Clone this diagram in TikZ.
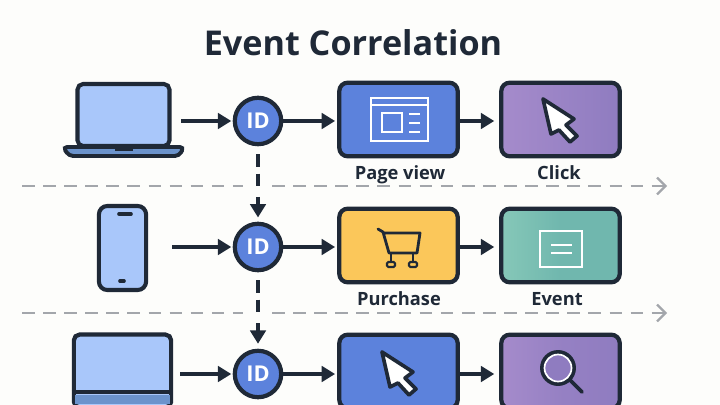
\documentclass[tikz,border=0pt]{standalone}
\usepackage{fontspec}
\setmainfont{Open Sans}
\usepackage{color}
\usetikzlibrary{arrows.meta}
\definecolor{ink}{HTML}{1F2937}
\definecolor{paper}{HTML}{FDFDFB}
\definecolor{sky}{HTML}{A9C7FA}
\definecolor{steel}{HTML}{6B93CC}
\definecolor{royal}{HTML}{5C82DC}
\definecolor{sun}{HTML}{FBC75A}
\definecolor{plum}{HTML}{A58BCB}
\definecolor{plumdark}{HTML}{8F7CC0}
\definecolor{teal}{HTML}{70B7AE}
\definecolor{tealpale}{HTML}{86C8B8}
\definecolor{rule}{HTML}{A3A6AB}
\tikzset{
    card/.style={draw=ink, line width=3pt, rounded corners=6pt, minimum width=2.96cm, minimum height=1.84cm, inner sep=0pt},
    device/.style={draw=ink, line width=2.9pt, fill=sky, rounded corners=4pt, inner sep=0pt},
    idnode/.style={circle, draw=ink, line width=3pt, fill=royal, text=white, minimum size=1.16cm, inner sep=0pt, font=\fontsize{15.5}{18}\selectfont\bfseries},
    flow/.style={draw=ink, line width=2.3pt, -{Triangle[length=9.5pt,width=11pt]}},
    link/.style={draw=ink, line width=2.3pt, dash pattern=on 9pt off 5pt},
    timeline/.style={draw=rule, line width=1.6pt, dash pattern=on 9pt off 6pt},
    caption/.style={anchor=base, text=ink, font=\fontsize{13}{15}\selectfont\bfseries},
    icon/.style={draw=white, line width=1.3pt},
    pointer/.pic={
        \draw[fill=white, draw=ink, line width=2.6pt, line join=round]
            (0,0) -- (31,20) -- (23,26) -- (34,37) -- (27,43) -- (16,31) -- (8,35) -- cycle;
    }
}
\begin{document}
\begin{tikzpicture}[x=0.025cm, y=-0.025cm]
    \useasboundingbox (0,0) rectangle (720,405);
    \clip (0,0) rectangle (720,405);
    \fill[paper] (0,0) rectangle (720,405);
    \node [text=ink, font=\fontsize{24.3}{28}\selectfont\bfseries] (title) at (353,43) {Event Correlation};

    % dashed rules between the rows
    \coordinate (ruleA) at (22,186);
    \coordinate (ruleAend) at (243,186);
    \coordinate (ruleB) at (272,186);
    \coordinate (ruleBend) at (667,186);
    \coordinate (ruleC) at (22,313);
    \coordinate (ruleCend) at (243,313);
    \coordinate (ruleD) at (272,313);
    \coordinate (ruleDend) at (667,313);
    \draw[timeline] (ruleA) -- (ruleAend);
    \draw[timeline, -{Straight Barb[length=6pt,width=12pt]}] (ruleB) -- (ruleBend);
    \draw[timeline] (ruleC) -- (ruleCend);
    \draw[timeline, -{Straight Barb[length=6pt,width=12pt]}] (ruleD) -- (ruleDend);

    % first row
    \node [device, minimum width=2.3cm, minimum height=1.55cm] (laptopA) at (123.5,115) {};
    \draw[draw=ink, line width=2.8pt, fill=steel, rounded corners=3pt] (63,147) -- (184,147) -- (179,156) -- (69,156) -- cycle;
    \fill[ink] (115,146) rectangle (133,151);
    \node [idnode] (idA) at (258,121) {ID};
    \node [card, fill=royal] (view) at (398.5,119.5) {};
    \node [card, left color=plum, right color=plumdark] (click) at (560.5,119.5) {};
    \node [caption] (viewtext) at (400,179.5) {Page view};
    \node [caption] (clicktext) at (559,179.5) {Click};
    \draw[icon] (371,98) rectangle (428,141);
    \draw[icon] (371,105) -- (428,105);
    \draw[icon] (382,113) rectangle (402,132);
    \draw[icon] (409,114) -- (420,114);
    \draw[icon] (409,123) -- (420,123);
    \draw[icon] (409,132) -- (420,132);
    \pic at (543,99) {pointer};

    % second row
    \node [device, minimum width=1.18cm, minimum height=2.1cm, rounded corners=6pt] (phone) at (122.5,248) {};
    \draw[ink, line width=2.6pt, line cap=round] (119,214) -- (131,214);
    \draw[ink, line width=2.6pt, line cap=round] (120,281) -- (124,281);
    \node [idnode] (idB) at (258,247) {ID};
    \node [card, fill=sun] (buy) at (398.5,245.5) {};
    \node [card, left color=tealpale, right color=teal, middle color=teal] (event) at (560.5,245.5) {};
    \node [caption] (buytext) at (399,305.5) {Purchase};
    \node [caption] (eventtext) at (557,305.5) {Event};
    \draw[ink, line width=2pt, line cap=round, line join=round] (378,229) -- (383,232) -- (389,253) -- (417,253) -- (420,233) -- (384,233);
    \draw[ink, line width=1.5pt] (391,253) -- (391,261);
    \draw[ink, line width=1.5pt] (413,253) -- (413,261);
    \draw[ink, line width=1.5pt, rounded corners=1pt] (387,262) rectangle (395,267);
    \draw[ink, line width=1.5pt, rounded corners=1pt] (409,262) rectangle (417,267);
    \draw[draw=white, line width=2pt] (540,231) rectangle (582,267);
    \draw[draw=white, line width=2pt] (551,245) -- (572,245);
    \draw[draw=white, line width=2pt] (551,253) -- (572,253);

    % third row
    \node [device, minimum width=2.43cm, minimum height=1.82cm, line width=3pt] (laptopB) at (122.5,371) {};
    \fill[steel] (75,395) rectangle (170,404);
    \draw[ink, line width=2.6pt] (laptopB.west |- 0,392) -- (laptopB.east |- 0,392);
    \node [idnode] (idC) at (258,374) {ID};
    \node [card, fill=royal] (move) at (398.5,371.5) {};
    \node [card, left color=plum, right color=plumdark, middle color=plumdark!70!plum] (find) at (560.5,371.5) {};
    \pic at (382,352) {pointer};
    \draw[ink, line width=2.6pt, line cap=round] (570,380) -- (582,392);
    \draw[ink, line width=2.8pt, fill=plumdark] (558,368) circle [radius=16];
    \draw[white, line width=1.2pt] (558,368) circle [radius=13.5];

    % arrows
    \draw[flow, shorten <=7pt, shorten >=1pt] (laptopA.east |- idA) -- (idA);
    \draw[flow, shorten >=1.5pt] (idA) -- (view.west |- idA);
    \draw[flow, shorten >=3.5pt] (view.east |- idA) -- (click.west |- idA);
    \draw[flow, shorten <=17pt, shorten >=1pt] (phone.east |- idB) -- (idB);
    \draw[flow, shorten >=1.5pt] (idB) -- (buy.west |- idB);
    \draw[flow, shorten >=3.5pt] (buy.east |- idB) -- (event.west |- idB);
    \draw[flow, shorten <=5pt, shorten >=1pt] (laptopB.east |- idC) -- (idC);
    \draw[flow, shorten >=1.5pt] (idC) -- (move.west |- idC);
    \draw[flow, shorten >=3.5pt] (move.east |- idC) -- (find.west |- idC);

    % dashed links between the ids
    \coordinate (linkAend) at (258,188);
    \coordinate (gapA) at (258,197);
    \coordinate (linkBend) at (258,315);
    \coordinate (gapB) at (258,323);
    \draw[link, shorten <=5.5pt] (idA) -- (linkAend);
    \draw[flow, shorten >=3pt] (gapA) -- (idB);
    \draw[link, shorten <=5.5pt] (idB) -- (linkBend);
    \draw[flow, shorten >=3.5pt] (gapB) -- (idC);
\end{tikzpicture}
\end{document}
